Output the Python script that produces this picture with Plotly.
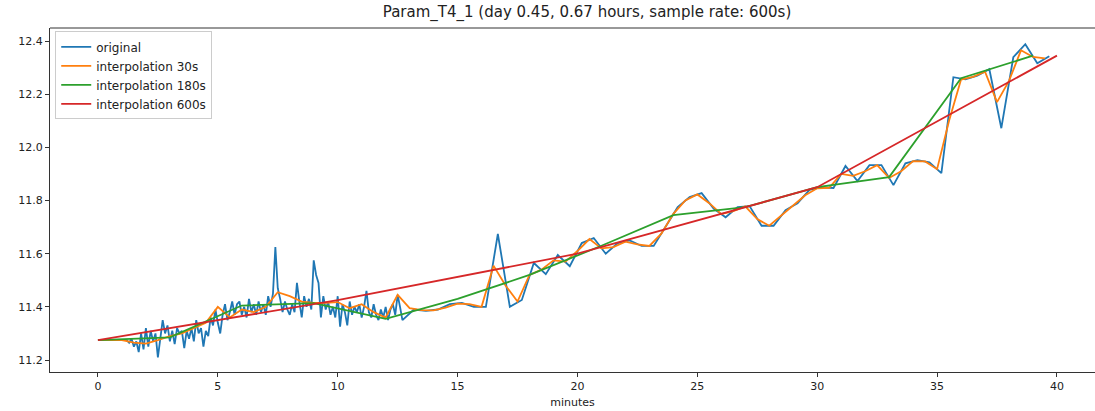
import plotly.graph_objects as go

# ---- data ----
orig_t = [0.0, 0.6, 1.2, 1.3, 1.4, 1.5, 1.6, 1.7, 1.8, 1.9, 2.0, 2.1, 2.2, 2.3, 2.4, 2.5, 2.6, 2.7, 2.8, 2.9,
          3.0, 3.1, 3.2, 3.3, 3.4, 3.5, 3.6, 3.7, 3.8, 3.9, 4.0, 4.1, 4.2, 4.3, 4.4, 4.5, 4.6, 4.7, 4.8, 4.9,
          5.0, 5.1, 5.2, 5.3, 5.4, 5.5, 5.6, 5.7, 5.8, 5.9, 6.0, 6.1, 6.2, 6.3, 6.4, 6.5, 6.6, 6.7, 6.8, 6.9,
          7.0, 7.1, 7.2, 7.3, 7.4, 7.5, 7.6, 7.7, 7.8, 7.9, 8.0, 8.1, 8.2, 8.3, 8.4, 8.5, 8.6, 8.7, 8.8, 8.9,
          9.0, 9.1, 9.2, 9.3, 9.4, 9.5, 9.6, 9.7, 9.8, 9.9, 10.0, 10.1, 10.2, 10.3, 10.4, 10.5, 10.6, 10.7, 10.8, 10.9,
          11.0, 11.1, 11.2, 11.3, 11.4, 11.5, 11.6, 11.7, 11.8, 11.9, 12.0, 12.1, 12.2, 12.3, 12.4, 12.5, 12.6, 12.7,
          13.18, 13.68, 14.18, 14.68, 15.18, 15.68, 16.18, 16.68, 17.18, 17.68, 18.18, 18.68, 19.18, 19.68,
          20.18, 20.68, 21.18, 21.68, 22.18, 22.68, 23.18, 23.68, 24.18, 24.68, 25.18, 25.68, 26.18, 26.68,
          27.18, 27.68, 28.18, 28.68, 29.18, 29.68, 30.18, 30.68, 31.18, 31.68, 32.18, 32.68, 33.18, 33.68,
          34.18, 34.68, 35.18, 35.68, 36.18, 36.68, 37.18, 37.68, 38.18, 38.68, 39.18, 39.68]
orig_v = [11.275, 11.275, 11.275, 11.265, 11.28, 11.25, 11.27, 11.23, 11.30, 11.24, 11.32, 11.25, 11.31, 11.27, 11.30, 11.21, 11.29, 11.35, 11.30, 11.33,
          11.27, 11.31, 11.26, 11.32, 11.30, 11.31, 11.245, 11.31, 11.28, 11.32, 11.27, 11.35, 11.30, 11.32, 11.25, 11.31, 11.29, 11.36, 11.33, 11.39,
          11.34, 11.30, 11.37, 11.41, 11.35, 11.38, 11.42, 11.37, 11.41, 11.42, 11.37, 11.40, 11.36, 11.43, 11.38, 11.41, 11.37, 11.42, 11.38, 11.41,
          11.37, 11.44, 11.40, 11.45, 11.625, 11.47, 11.43, 11.38, 11.42, 11.39, 11.37, 11.41, 11.38, 11.49, 11.42, 11.36, 11.44, 11.40, 11.43, 11.39,
          11.575, 11.52, 11.49, 11.36, 11.44, 11.39, 11.42, 11.37, 11.40, 11.36, 11.44, 11.325, 11.41, 11.38, 11.33, 11.42, 11.37, 11.40, 11.38, 11.41,
          11.36, 11.40, 11.46, 11.38, 11.36, 11.41, 11.37, 11.35, 11.39, 11.36, 11.40, 11.35, 11.39, 11.41, 11.37, 11.445, 11.40, 11.35,
          11.39, 11.385, 11.39, 11.41, 11.415, 11.40, 11.40, 11.674, 11.40, 11.426, 11.565, 11.523, 11.595, 11.553,
          11.64, 11.659, 11.60, 11.64, 11.65, 11.629, 11.629, 11.70, 11.775, 11.813, 11.828, 11.77, 11.737, 11.775,
          11.779, 11.705, 11.705, 11.764, 11.79, 11.84, 11.85, 11.847, 11.93, 11.873, 11.933, 11.933, 11.858, 11.94,
          11.952, 11.944, 11.903, 12.264, 12.256, 12.27, 12.294, 12.072, 12.339, 12.388, 12.316, 12.343]

i30_t = [0.0, 0.5, 1.0, 1.5, 2.0, 2.5, 3.0, 3.5, 4.0, 4.5, 5.0, 5.5, 6.0, 6.5, 7.0, 7.5, 8.0, 8.5, 9.0, 9.5,
         10.0, 10.5, 11.0, 11.5, 12.0, 12.5, 13.0, 13.5, 14.0, 14.5, 15.0, 15.5, 16.0, 16.5, 17.0, 17.5, 18.0, 18.5, 19.0, 19.5,
         20.0, 20.5, 21.0, 21.5, 22.0, 22.5, 23.0, 23.5, 24.0, 24.5, 25.0, 25.5, 26.0, 26.5, 27.0, 27.5, 28.0, 28.5, 29.0, 29.5,
         30.0, 30.5, 31.0, 31.5, 32.0, 32.5, 33.0, 33.5, 34.0, 34.5, 35.0, 35.5, 36.0, 36.5, 37.0, 37.5, 38.0, 38.5, 39.0, 39.5]
i30_v = [11.275, 11.275, 11.275, 11.265, 11.262, 11.275, 11.29, 11.30, 11.32, 11.34, 11.40, 11.36, 11.39, 11.38, 11.40, 11.455, 11.44, 11.42, 11.415, 11.415,
         11.418, 11.395, 11.41, 11.38, 11.36, 11.445, 11.395, 11.388, 11.387, 11.397, 11.412, 11.41, 11.40, 11.555, 11.48, 11.42, 11.52, 11.54, 11.575, 11.57,
         11.61, 11.655, 11.62, 11.625, 11.645, 11.635, 11.629, 11.675, 11.75, 11.80, 11.823, 11.79, 11.749, 11.76, 11.778, 11.73, 11.705, 11.743, 11.78, 11.82,
         11.846, 11.848, 11.90, 11.893, 11.91, 11.933, 11.885, 11.91, 11.948, 11.947, 11.918, 12.10, 12.255, 12.265, 12.285, 12.17, 12.25, 12.365, 12.34, 12.335]

i180_t = [0, 3, 6, 9, 12, 15, 18, 21, 24, 27, 30, 33, 36, 39]
i180_v = [11.275, 11.285, 11.405, 11.414, 11.355, 11.43, 11.52, 11.63, 11.745, 11.775, 11.85, 11.888, 12.26, 12.345]

i600_t = [0, 10, 20, 30, 40]
i600_v = [11.275, 11.425, 11.60, 11.85, 12.345]

x_ticks = [0, 5, 10, 15, 20, 25, 30, 35, 40]
y_ticks = [11.2, 11.4, 11.6, 11.8, 12.0, 12.2, 12.4]

TITLE = "Param_T4_1 (day 0.45, 0.67 hours, sample rate: 600s)"

series = [
    ("original", orig_t, orig_v, "#1f77b4"),
    ("interpolation 30s", i30_t, i30_v, "#ff7f0e"),
    ("interpolation 180s", i180_t, i180_v, "#2ca02c"),
    ("interpolation 600s", i600_t, i600_v, "#d62728"),
]

fig = go.Figure()
for name, t, v, c in series:
    fig.add_trace(go.Scatter(x=t, y=v, mode="lines", name=name,
                             line=dict(color=c, width=1.8)))

W, H = 1095, 411
L, R, T, B = 50, 0, 28, 39
px_per_min = 23.975
x_lo = -2.0
x_hi = x_lo + (W - L - R) / px_per_min

fig.update_layout(
    width=W, height=H,
    margin=dict(l=L, r=R, t=T, b=B, pad=0),
    paper_bgcolor="white", plot_bgcolor="white",
    font=dict(family="DejaVu Sans", size=11, color="#222"),
    title=dict(text=TITLE, x=587 / W, xanchor="center", y=1 - 12 / H, yanchor="middle",
               font=dict(size=15, color="#222")),
    showlegend=True,
    legend=dict(x=0.005, y=0.99, xanchor="left", yanchor="top",
                bgcolor="rgba(255,255,255,0.8)", bordercolor="#cccccc", borderwidth=1,
                font=dict(size=12), tracegroupgap=0, itemwidth=30),
    xaxis=dict(range=[x_lo, x_hi], tickvals=x_ticks, ticks="outside", ticklen=4,
               tickcolor="#333", showgrid=False, zeroline=False, showline=True,
               linecolor="#333", linewidth=1,
               title=dict(text="minutes", font=dict(size=11), standoff=6)),
    yaxis=dict(range=[11.1549, 12.449], tickvals=y_ticks, tickformat=".1f",
               ticks="outside", ticklen=4, tickcolor="#333", showgrid=False,
               zeroline=False, showline=True, linecolor="#333", linewidth=1),
)
# top spine (the right spine lies outside the picture)
fig.add_shape(type="line", xref="paper", yref="paper", x0=0, x1=1, y0=1, y1=1,
              line=dict(color="#333", width=1))

fig.write_html("out.html")
